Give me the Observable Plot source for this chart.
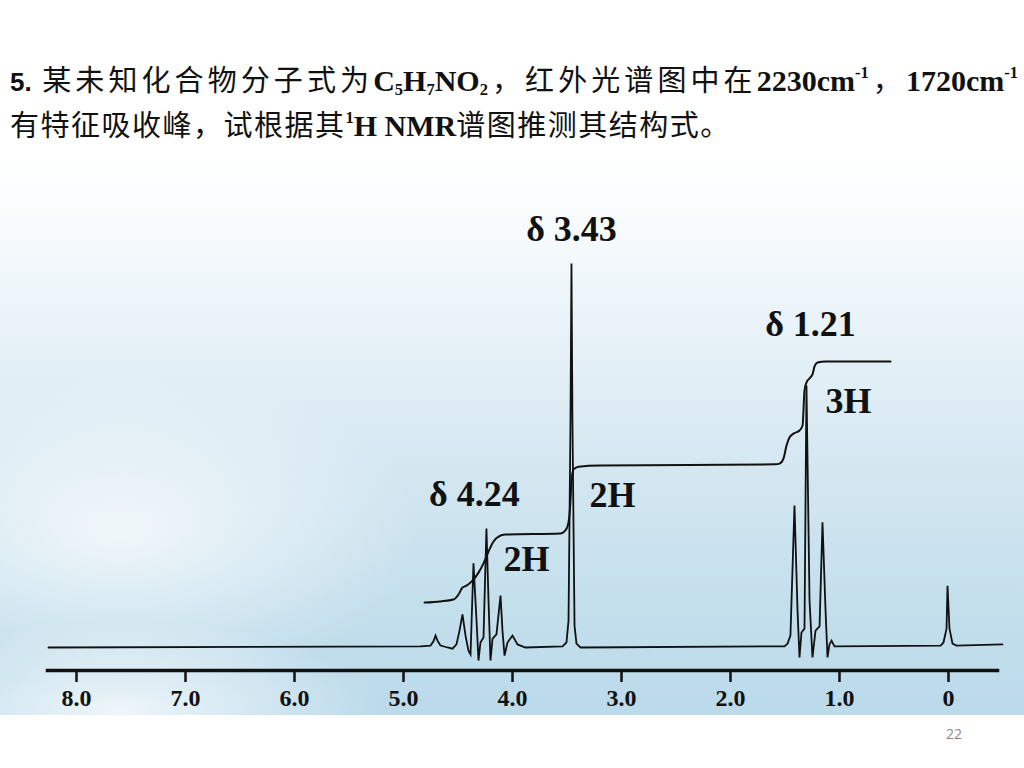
<!DOCTYPE html>
<html>
<head>
<meta charset="utf-8">
<script src="https://cdn.jsdelivr.net/npm/d3@7"></script>
<script src="https://cdn.jsdelivr.net/npm/@observablehq/plot@0.6"></script>
<style>
  html, body { margin: 0; padding: 0; background: #fff; }
  #page { position: relative; width: 1024px; height: 768px; overflow: hidden; background: #fff; }
  #sky {
    position: absolute; left: 0; top: 150px; width: 1024px; height: 565px;
    background:
      radial-gradient(ellipse 260px 90px at 120px 560px, rgba(255,255,255,0.75), rgba(255,255,255,0) 100%),
      radial-gradient(ellipse 320px 70px at 330px 640px, rgba(255,255,255,0.6), rgba(255,255,255,0) 100%),
      radial-gradient(ellipse 300px 160px at 120px 380px, rgba(255,255,255,0.7), rgba(255,255,255,0) 100%),
      linear-gradient(to bottom, #ffffff 0px, #fbfdfe 50px, #e8f2f8 180px, #d4e7f1 320px, #c4dfec 450px, #bbdaea 565px);
  }
  #title { position: absolute; left: 10px; top: 58px; width: 1008px; color: #111;
    font-family: "Noto Sans CJK SC", sans-serif; font-size: 29px; line-height: 41px; white-space: nowrap; }
  #title .l1 { text-align: justify; text-align-last: justify; }
  #title .l2 { letter-spacing: 1.5px; }
  #title .num { font-family: "Liberation Sans", Arial, sans-serif; font-weight: bold; font-size: 26px; }
  #title .lat { font-family: "Liberation Serif", "Times New Roman", serif; font-weight: bold; font-size: 30px; letter-spacing: 0; }
  #title sub, #title sup { font-size: 0.55em; line-height: 0; }
  #title sub { vertical-align: -0.25em; }
  #title sup { vertical-align: 0.8em; }
  #chart { position: absolute; left: 0; top: 150px; }
  #pageno { position: absolute; left: 940px; top: 724px; width: 28px; text-align: center;
    font-family: "Open Sans", sans-serif; font-size: 14px; color: #8a8a8a; }
</style>
</head>
<body>
<div id="page">
  <div id="sky"></div>
  <div id="title">
    <div class="l1"><span class="num">5.</span> 某未知化合物分子式为<span class="lat">C<sub>5</sub>H<sub>7</sub>NO<sub>2</sub></span>，红外光谱图中在<span class="lat">2230cm<sup>-1</sup></span>，<span class="lat">1720cm<sup>-1</sup></span></div>
    <div class="l2">有特征吸收峰，试根据其<span class="lat"><sup>1</sup>H NMR</span>谱图推测其结构式。</div>
  </div>
  <div id="chart"></div>
  <div id="pageno">22</div>
</div>
<script>
// 1H NMR trace: chemical shift (ppm) and relative intensity (δ 3.43 peak = 100)
const specPpm = [8.257, 4.844, 4.752, 4.725, 4.706, 4.688, 4.661, 4.596, 4.550, 4.514, 4.486, 4.459, 4.431, 4.404, 4.385, 4.358, 4.330, 4.312, 4.294, 4.266, 4.239, 4.220, 4.202, 4.183, 4.147, 4.110, 4.092, 4.073, 4.046, 4.000, 3.954, 3.881, 3.541, 3.505, 3.486, 3.468, 3.459, 3.450, 3.431, 3.413, 3.376, 1.505, 1.477, 1.450, 1.413, 1.385, 1.367, 1.349, 1.321, 1.303, 1.275, 1.248, 1.220, 1.183, 1.156, 1.128, 1.110, 1.092, 1.073, 1.046, 0.073, 0.046, 0.018, 0.009, -0.009, -0.037, -0.073, -0.495];
const specInt = [0, 0.3, 0.5, 1.6, 3.1, 1.8, 0.5, 0, -0.3, 0.8, 4.4, 8.6, 3.1, -0.8, -1.8, 21.9, 7.0, -3.4, 1.3, 2.6, 31.0, 12.2, -3.4, 2.3, 3.4, 13.5, 4.4, -2.1, 1.3, 3.1, 0.8, 0, 0.3, 1.3, 7.0, 59.1, 100, 59.1, 5.7, 1.0, 0, 0.3, 1.0, 3.1, 37.0, 9.6, -2.6, 3.9, 4.9, 68.2, 12.2, -2.6, 4.4, 5.5, 32.6, 9.6, -2.6, 0.8, 1.8, 0.3, 0.5, 1.3, 4.9, 16.1, 4.9, 1.0, 0.5, 0.8];

// integral curve
const integPpm = [4.807, 4.661, 4.541, 4.495, 4.459, 4.422, 4.367, 4.312, 4.266, 4.220, 4.174, 4.128, 4.064, 3.560, 3.514, 3.486, 3.468, 3.459, 3.440, 3.394, 3.193, 1.587, 1.550, 1.514, 1.486, 1.459, 1.422, 1.367, 1.339, 1.321, 1.303, 1.275, 1.248, 1.229, 1.202, 1.128, 0.532];
const integInt = [11.7, 12.0, 12.5, 13.8, 15.6, 16.1, 17.4, 19.5, 21.9, 25.0, 27.6, 28.9, 29.4, 29.7, 30.5, 32.6, 38.3, 43.5, 46.4, 47.1, 47.4, 47.7, 47.9, 49.2, 52.6, 54.7, 55.7, 56.5, 57.8, 66.9, 69.0, 70.1, 71.1, 73.2, 74.2, 74.5, 74.5];

// axis ticks
const tickValues = [8, 7, 6, 5, 4, 3, 2, 1, 0];
const tickLabels = ["8.0", "7.0", "6.0", "5.0", "4.0", "3.0", "2.0", "1.0", "0"];

// annotations
const noteText = ["δ 3.43", "δ 1.21", "3H", "2H", "δ 4.24", "2H"];
const notePpm = [3.459, 1.266, 0.917, 3.083, 4.349, 3.872];
const noteInt = [108.9, 84.1, 64.1, 39.6, 39.8, 22.9];

const spectrum = specPpm.map((p, i) => ({ppm: p, v: specInt[i]}));
const integral = integPpm.map((p, i) => ({ppm: p, v: integInt[i]}));
const notes = noteText.map((t, i) => ({t, ppm: notePpm[i], v: noteInt[i]}));

const chart = Plot.plot({
  width: 1024,
  height: 565,
  marginLeft: 47,
  marginRight: 27,
  marginTop: 0,
  marginBottom: 45,
  x: {domain: [8.3, -0.45], range: [43.3, 997.05]},
  y: {domain: [0, 100], range: [497, 113], axis: null},
  style: {background: "transparent", overflow: "visible", color: "#111"},
  marks: [
    Plot.frame({anchor: "bottom", stroke: "#111", strokeWidth: 3.5}),
    Plot.axisX({
      ticks: tickValues,
      tickFormat: (d) => tickLabels[tickValues.indexOf(d)],
      tickSize: 12,
      tickPadding: 6,
      strokeWidth: 2.5,
      stroke: "#111",
      fill: "#111",
      fontSize: 24,
      fontWeight: "bold",
      fontFamily: "Liberation Serif",
      label: null
    }),
    Plot.line(integral, {x: "ppm", y: "v", stroke: "#111", strokeWidth: 2, curve: "monotone-x"}),
    Plot.line(spectrum, {x: "ppm", y: "v", stroke: "#111", strokeWidth: 1.8, strokeLinejoin: "miter", strokeMiterlimit: 4}),
    Plot.text(notes, {x: "ppm", y: "v", text: "t", fontSize: 36, fontWeight: "bold",
      fontFamily: "Liberation Serif", fill: "#111", textAnchor: "middle", lineAnchor: "middle"})
  ]
});
document.getElementById("chart").appendChild(chart);
</script>
</body>
</html>
